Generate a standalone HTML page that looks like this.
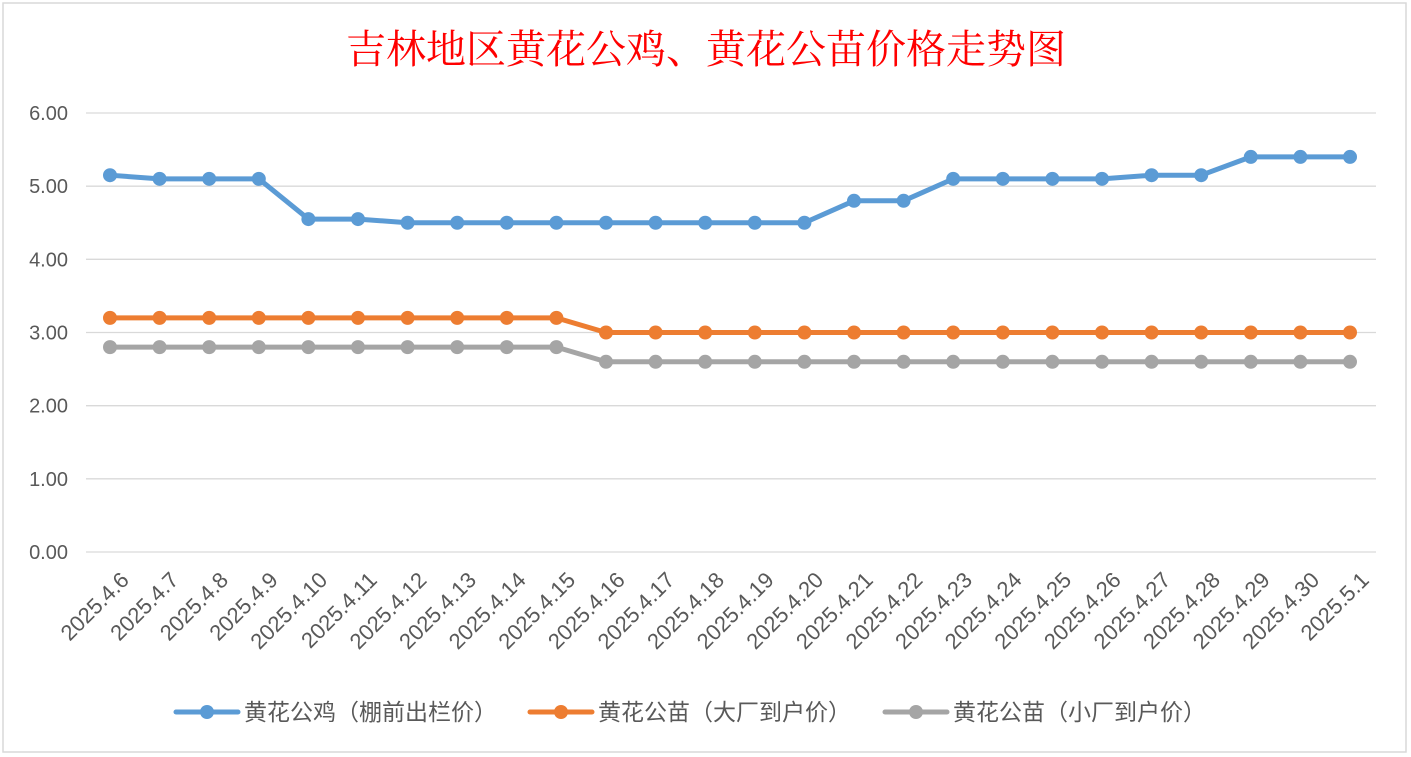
<!DOCTYPE html>
<html><head><meta charset="utf-8"><style>
body{margin:0;background:#fff;}
svg{display:block;font-family:"Liberation Sans","Noto Sans CJK SC",sans-serif;}
</style></head><body>
<svg width="1411" height="757">
<rect x="3" y="3" width="1403" height="749" fill="#fff" stroke="#d9d9d9" stroke-width="1.5"/>
<text x="706" y="63" text-anchor="middle" font-family="'Liberation Serif','Noto Serif CJK SC',serif" font-size="40" fill="#ff0000">吉林地区黄花公鸡、黄花公苗价格走势图</text>
<g id="grid"></g><g id="ylab"></g><g id="xlab"></g><g id="series"></g>
<g id="legend"></g>
</svg>
<script>
const categories=["2025.4.6","2025.4.7","2025.4.8","2025.4.9","2025.4.10","2025.4.11","2025.4.12","2025.4.13","2025.4.14","2025.4.15","2025.4.16","2025.4.17","2025.4.18","2025.4.19","2025.4.20","2025.4.21","2025.4.22","2025.4.23","2025.4.24","2025.4.25","2025.4.26","2025.4.27","2025.4.28","2025.4.29","2025.4.30","2025.5.1"];
const rooster=[5.15,5.1,5.1,5.1,4.55,4.55,4.5,4.5,4.5,4.5,4.5,4.5,4.5,4.5,4.5,4.8,4.8,5.1,5.1,5.1,5.1,5.15,5.15,5.4,5.4,5.4];
const chickBig=[3.2,3.2,3.2,3.2,3.2,3.2,3.2,3.2,3.2,3.2,3,3,3,3,3,3,3,3,3,3,3,3,3,3,3,3];
const chickSmall=[2.8,2.8,2.8,2.8,2.8,2.8,2.8,2.8,2.8,2.8,2.6,2.6,2.6,2.6,2.6,2.6,2.6,2.6,2.6,2.6,2.6,2.6,2.6,2.6,2.6,2.6];
const yTicks=[0,1,2,3,4,5,6];
const seriesNames=["黄花公鸡（棚前出栏价）","黄花公苗（大厂到户价）","黄花公苗（小厂到户价）"];
const NS="http://www.w3.org/2000/svg";
const X=i=>110+i*(1240/(categories.length-1));
const Y=v=>552-v*(439/6);
function mk(tag,attrs,parent){const e=document.createElementNS(NS,tag);for(const k in attrs)e.setAttribute(k,attrs[k]);parent.appendChild(e);return e;}
const g=document.getElementById('grid'),yl=document.getElementById('ylab'),xl=document.getElementById('xlab'),sg=document.getElementById('series'),lg=document.getElementById('legend');
yTicks.forEach(t=>{
 const l=mk('line',{x1:86,x2:1376,y1:Y(t),y2:Y(t),stroke:'#d9d9d9','stroke-width':1.3},g);
 
 
 const tx=mk('text',{x:68,y:Y(t)+7,'text-anchor':'end','font-size':20,fill:'#595959'},yl);
 tx.textContent=t.toFixed(2);
 
 
});
categories.forEach((c,i)=>{
 const x=X(i)+9,y=570;
 const tx=mk('text',{x:x,y:y,'text-anchor':'end','font-size':22,fill:'#595959',transform:`rotate(-45 ${x} ${y})`,'dominant-baseline':'hanging'},xl);
 tx.textContent=c;
 
 
});
const colors=["#5b9bd5","#ed7d31","#a5a5a5"];
[rooster,chickBig,chickSmall].forEach((d,s)=>{
 const p=mk('polyline',{points:d.map((v,i)=>X(i)+','+Y(v)).join(' '),fill:'none',stroke:colors[s],'stroke-width':5,'stroke-linejoin':'round'},sg);
 
 
 d.forEach((v,i)=>{
  const c=mk('circle',{cx:X(i),cy:Y(v),r:7,fill:colors[s]},sg);
  
  
 });
});
const lx=[176,530,885];
seriesNames.forEach((n,s)=>{
 const y=712;
 const ln=mk('line',{x1:lx[s],x2:lx[s]+62,y1:y,y2:y,stroke:colors[s],'stroke-width':5,'stroke-linecap':'round'},lg);
 
 
 const c=mk('circle',{cx:lx[s]+31,cy:y,r:7,fill:colors[s]},lg);
 
 
 const t=mk('text',{x:lx[s]+68,y:y+8,'font-size':23,fill:'#595959'},lg);
 t.textContent=n;
 
 
});
</script>
</body></html>
